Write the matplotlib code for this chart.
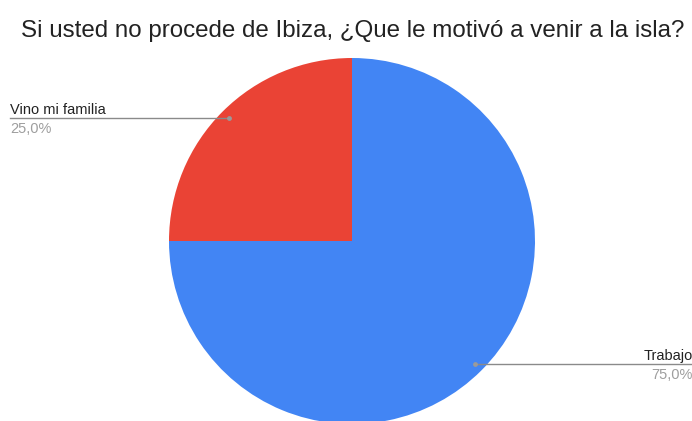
import matplotlib.pyplot as plt
import numpy as np

plt.rcParams['font.family'] = ['Liberation Sans', 'DejaVu Sans']

# data
labels = ['Trabajo', 'Vino mi familia']
values = [75.0, 25.0]
colors = ['#4285F4', '#EA4335']
title = 'Si usted no procede de Ibiza, ¿Que le motivó a venir a la isla?'

W, H = 692, 421
fig = plt.figure(figsize=(W / 100, H / 100), dpi=100)
ax = fig.add_axes([0, 0, 1, 1])

def py(y):
    # pixel row (from top) -> data y
    return H - y

cx, cy, r = 352, py(241), 183
wedges, _ = ax.pie(values, colors=colors, startangle=90, counterclock=False,
                   center=(cx, cy), radius=r, frame=True,
                   wedgeprops=dict(linewidth=0))
ax.set_xlim(0, W)
ax.set_ylim(0, H)
ax.set_aspect('equal')
ax.axis('off')

ax.text(353, py(37), title, ha='center', va='baseline',
        fontsize=17.4, color='#222222')

total = sum(values)
for w, lab, v in zip(wedges, labels, values):
    mid = np.deg2rad((w.theta1 + w.theta2) / 2)
    dx, dy = cx + 0.95 * r * np.cos(mid), cy + 0.95 * r * np.sin(mid)
    pct = f'{100 * v / total:.1f}%'.replace('.', ',')
    if np.cos(mid) < 0:
        x0, x1, ha, tx = 10, dx, 'left', 10
    else:
        x0, x1, ha, tx = dx, W, 'right', W + 1
    ax.plot([x0, x1], [dy, dy], color='#8a8a8a', lw=1)
    ax.plot(dx, dy, 'o', color='#9a9a9a', ms=3.5, mew=0)
    ax.text(tx, dy + 4, lab, ha=ha, va='baseline', fontsize=10.5, color='#222222')
    ax.text(tx, dy - 4, pct, ha=ha, va='top', fontsize=10.5, color='#9e9e9e')

fig.savefig('out.png', dpi=100)
